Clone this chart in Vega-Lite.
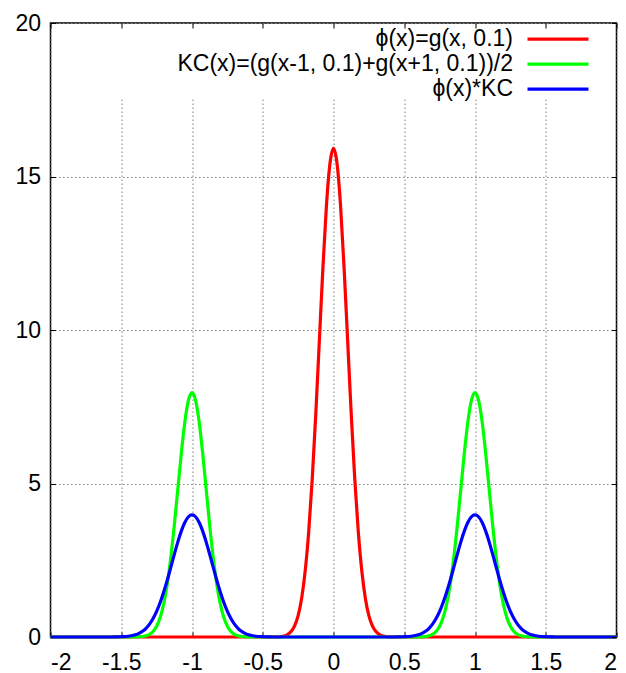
{
  "$schema": "https://vega.github.io/schema/vega-lite/v6.json",
  "width": 566,
  "height": 614,
  "autosize": {"type": "none"},
  "padding": {"left": 50.5, "top": 23, "right": 9.5, "bottom": 36},
  "background": "white",
  "config": {
    "font": "Liberation Sans",
    "view": {"stroke": "black", "strokeWidth": 1.5},
    "axis": {
      "labelFont": "Liberation Sans",
      "labelFontSize": 23,
      "labelColor": "black",
      "domain": false,
      "tickColor": "black",
      "tickSize": -5,
      "tickWidth": 1,
      "gridColor": "#808080",
      "gridDash": [1.5, 2.5],
      "gridWidth": 1,
      "title": null
    }
  },
  "layer": [
    {
      "data": {"values": [{}]},
      "mark": {"type": "rect", "fill": "white"},
      "encoding": {
        "x": {"datum": -1.95, "type": "quantitative", "scale": {"domain": [-2, 2], "nice": false, "zero": false},
          "axis": {"orient": "top", "labels": false, "grid": false, "values": [-2, -1.5, -1, -0.5, 0, 0.5, 1, 1.5, 2], "zindex": 1}},
        "x2": {"datum": 1.95},
        "y": {"datum": 17.55, "type": "quantitative", "scale": {"domain": [0, 20], "nice": false},
          "axis": {"orient": "right", "labels": false, "grid": false, "values": [0, 5, 10, 15, 20], "zindex": 1}},
        "y2": {"datum": 19.95}
      }
    },
    {
      "data": {"values": [
        {"s":"phi","x":-2,"y":0},{"s":"phi","x":-0.5,"y":0},{"s":"phi","x":-0.45,"y":0.001},{"s":"phi","x":-0.4,"y":0.005},{"s":"phi","x":-0.35,"y":0.035},{"s":"phi","x":-0.325,"y":0.081},{"s":"phi","x":-0.3,"y":0.177},{"s":"phi","x":-0.275,"y":0.363},{"s":"phi","x":-0.25,"y":0.699},{"s":"phi","x":-0.225,"y":1.266},{"s":"phi","x":-0.2,"y":2.154},{"s":"phi","x":-0.175,"y":3.442},{"s":"phi","x":-0.15,"y":5.167},{"s":"phi","x":-0.125,"y":7.286},{"s":"phi","x":-0.1,"y":9.653},{"s":"phi","x":-0.075,"y":12.013},{"s":"phi","x":-0.05,"y":14.045},{"s":"phi","x":-0.025,"y":15.425},{"s":"phi","x":0,"y":15.915},{"s":"phi","x":0.025,"y":15.425},{"s":"phi","x":0.05,"y":14.045},{"s":"phi","x":0.075,"y":12.013},{"s":"phi","x":0.1,"y":9.653},{"s":"phi","x":0.125,"y":7.286},{"s":"phi","x":0.15,"y":5.167},{"s":"phi","x":0.175,"y":3.442},{"s":"phi","x":0.2,"y":2.154},{"s":"phi","x":0.225,"y":1.266},{"s":"phi","x":0.25,"y":0.699},{"s":"phi","x":0.275,"y":0.363},{"s":"phi","x":0.3,"y":0.177},{"s":"phi","x":0.325,"y":0.081},{"s":"phi","x":0.35,"y":0.035},{"s":"phi","x":0.4,"y":0.005},{"s":"phi","x":0.45,"y":0.001},{"s":"phi","x":0.5,"y":0},{"s":"phi","x":2,"y":0},
        {"s":"kc","x":-2,"y":0},{"s":"kc","x":-1.5,"y":0},{"s":"kc","x":-1.45,"y":0.001},{"s":"kc","x":-1.4,"y":0.003},{"s":"kc","x":-1.35,"y":0.017},{"s":"kc","x":-1.325,"y":0.04},{"s":"kc","x":-1.3,"y":0.088},{"s":"kc","x":-1.275,"y":0.181},{"s":"kc","x":-1.25,"y":0.35},{"s":"kc","x":-1.225,"y":0.633},{"s":"kc","x":-1.2,"y":1.077},{"s":"kc","x":-1.175,"y":1.721},{"s":"kc","x":-1.15,"y":2.584},{"s":"kc","x":-1.125,"y":3.643},{"s":"kc","x":-1.1,"y":4.827},{"s":"kc","x":-1.075,"y":6.007},{"s":"kc","x":-1.05,"y":7.023},{"s":"kc","x":-1.025,"y":7.713},{"s":"kc","x":-1,"y":7.958},{"s":"kc","x":-0.975,"y":7.713},{"s":"kc","x":-0.95,"y":7.023},{"s":"kc","x":-0.925,"y":6.007},{"s":"kc","x":-0.9,"y":4.827},{"s":"kc","x":-0.875,"y":3.643},{"s":"kc","x":-0.85,"y":2.584},{"s":"kc","x":-0.825,"y":1.721},{"s":"kc","x":-0.8,"y":1.077},{"s":"kc","x":-0.775,"y":0.633},{"s":"kc","x":-0.75,"y":0.35},{"s":"kc","x":-0.725,"y":0.181},{"s":"kc","x":-0.7,"y":0.088},{"s":"kc","x":-0.675,"y":0.04},{"s":"kc","x":-0.65,"y":0.017},{"s":"kc","x":-0.6,"y":0.003},{"s":"kc","x":-0.55,"y":0.001},{"s":"kc","x":-0.5,"y":0},
        {"s":"kc","x":0.5,"y":0},{"s":"kc","x":0.55,"y":0.001},{"s":"kc","x":0.6,"y":0.003},{"s":"kc","x":0.65,"y":0.017},{"s":"kc","x":0.675,"y":0.04},{"s":"kc","x":0.7,"y":0.088},{"s":"kc","x":0.725,"y":0.181},{"s":"kc","x":0.75,"y":0.35},{"s":"kc","x":0.775,"y":0.633},{"s":"kc","x":0.8,"y":1.077},{"s":"kc","x":0.825,"y":1.721},{"s":"kc","x":0.85,"y":2.584},{"s":"kc","x":0.875,"y":3.643},{"s":"kc","x":0.9,"y":4.827},{"s":"kc","x":0.925,"y":6.007},{"s":"kc","x":0.95,"y":7.023},{"s":"kc","x":0.975,"y":7.713},{"s":"kc","x":1,"y":7.958},{"s":"kc","x":1.025,"y":7.713},{"s":"kc","x":1.05,"y":7.023},{"s":"kc","x":1.075,"y":6.007},{"s":"kc","x":1.1,"y":4.827},{"s":"kc","x":1.125,"y":3.643},{"s":"kc","x":1.15,"y":2.584},{"s":"kc","x":1.175,"y":1.721},{"s":"kc","x":1.2,"y":1.077},{"s":"kc","x":1.225,"y":0.633},{"s":"kc","x":1.25,"y":0.35},{"s":"kc","x":1.275,"y":0.181},{"s":"kc","x":1.3,"y":0.088},{"s":"kc","x":1.325,"y":0.04},{"s":"kc","x":1.35,"y":0.017},{"s":"kc","x":1.4,"y":0.003},{"s":"kc","x":1.45,"y":0.001},{"s":"kc","x":1.5,"y":0},{"s":"kc","x":2,"y":0},
        {"s":"conv","x":-2,"y":0},{"s":"conv","x":-1.6,"y":0},{"s":"conv","x":-1.55,"y":0.002},{"s":"conv","x":-1.5,"y":0.008},{"s":"conv","x":-1.45,"y":0.025},{"s":"conv","x":-1.4,"y":0.073},{"s":"conv","x":-1.375,"y":0.118},{"s":"conv","x":-1.35,"y":0.186},{"s":"conv","x":-1.325,"y":0.284},{"s":"conv","x":-1.3,"y":0.419},{"s":"conv","x":-1.275,"y":0.601},{"s":"conv","x":-1.25,"y":0.834},{"s":"conv","x":-1.225,"y":1.122},{"s":"conv","x":-1.2,"y":1.464},{"s":"conv","x":-1.175,"y":1.85},{"s":"conv","x":-1.15,"y":2.267},{"s":"conv","x":-1.125,"y":2.692},{"s":"conv","x":-1.1,"y":3.099},{"s":"conv","x":-1.075,"y":3.457},{"s":"conv","x":-1.05,"y":3.738},{"s":"conv","x":-1.025,"y":3.917},{"s":"conv","x":-1,"y":3.979},{"s":"conv","x":-0.975,"y":3.917},{"s":"conv","x":-0.95,"y":3.738},{"s":"conv","x":-0.925,"y":3.457},{"s":"conv","x":-0.9,"y":3.099},{"s":"conv","x":-0.875,"y":2.692},{"s":"conv","x":-0.85,"y":2.267},{"s":"conv","x":-0.825,"y":1.85},{"s":"conv","x":-0.8,"y":1.464},{"s":"conv","x":-0.775,"y":1.122},{"s":"conv","x":-0.75,"y":0.834},{"s":"conv","x":-0.725,"y":0.601},{"s":"conv","x":-0.7,"y":0.419},{"s":"conv","x":-0.675,"y":0.284},{"s":"conv","x":-0.65,"y":0.186},{"s":"conv","x":-0.625,"y":0.118},{"s":"conv","x":-0.6,"y":0.073},{"s":"conv","x":-0.55,"y":0.025},{"s":"conv","x":-0.5,"y":0.008},{"s":"conv","x":-0.45,"y":0.002},{"s":"conv","x":-0.4,"y":0},
        {"s":"conv","x":0.4,"y":0},{"s":"conv","x":0.45,"y":0.002},{"s":"conv","x":0.5,"y":0.008},{"s":"conv","x":0.55,"y":0.025},{"s":"conv","x":0.6,"y":0.073},{"s":"conv","x":0.625,"y":0.118},{"s":"conv","x":0.65,"y":0.186},{"s":"conv","x":0.675,"y":0.284},{"s":"conv","x":0.7,"y":0.419},{"s":"conv","x":0.725,"y":0.601},{"s":"conv","x":0.75,"y":0.834},{"s":"conv","x":0.775,"y":1.122},{"s":"conv","x":0.8,"y":1.464},{"s":"conv","x":0.825,"y":1.85},{"s":"conv","x":0.85,"y":2.267},{"s":"conv","x":0.875,"y":2.692},{"s":"conv","x":0.9,"y":3.099},{"s":"conv","x":0.925,"y":3.457},{"s":"conv","x":0.95,"y":3.738},{"s":"conv","x":0.975,"y":3.917},{"s":"conv","x":1,"y":3.979},{"s":"conv","x":1.025,"y":3.917},{"s":"conv","x":1.05,"y":3.738},{"s":"conv","x":1.075,"y":3.457},{"s":"conv","x":1.1,"y":3.099},{"s":"conv","x":1.125,"y":2.692},{"s":"conv","x":1.15,"y":2.267},{"s":"conv","x":1.175,"y":1.85},{"s":"conv","x":1.2,"y":1.464},{"s":"conv","x":1.225,"y":1.122},{"s":"conv","x":1.25,"y":0.834},{"s":"conv","x":1.275,"y":0.601},{"s":"conv","x":1.3,"y":0.419},{"s":"conv","x":1.325,"y":0.284},{"s":"conv","x":1.35,"y":0.186},{"s":"conv","x":1.375,"y":0.118},{"s":"conv","x":1.4,"y":0.073},{"s":"conv","x":1.45,"y":0.025},{"s":"conv","x":1.5,"y":0.008},{"s":"conv","x":1.55,"y":0.002},{"s":"conv","x":1.6,"y":0},{"s":"conv","x":2,"y":0}
      ]},
      "mark": {"type": "line", "strokeWidth": 3.2, "interpolate": "monotone"},
      "encoding": {
        "x": {"field": "x", "type": "quantitative", "scale": {"domain": [-2, 2], "nice": false, "zero": false},
          "axis": {"orient": "bottom", "grid": true, "values": [-2, -1.5, -1, -0.5, 0, 0.5, 1, 1.5, 2], "labelExpr": "'' + datum.value", "labelPadding": 19}},
        "y": {"field": "y", "type": "quantitative", "scale": {"domain": [0, 20], "nice": false},
          "axis": {"orient": "left", "grid": true, "values": [0, 5, 10, 15, 20], "labelExpr": "'' + datum.value", "labelPadding": 15}},
        "color": {"field": "s", "type": "nominal",
          "scale": {"domain": ["phi", "kc", "conv"], "range": ["#ff0000", "#00ff00", "#0000ff"]},
          "legend": {
            "orient": "none", "legendX": 495.5, "legendY": 4.2, "title": null,
            "symbolType": "M-3.05,0H3.05", "symbolSize": 400, "symbolStrokeWidth": 3.2,
            "labelFont": "Liberation Sans", "labelFontSize": 23, "labelColor": "black",
            "labelAlign": "right", "labelBaseline": "middle", "labelOffset": -57, "labelLimit": 800,
            "rowPadding": 1, "padding": 0,
            "labelExpr": "datum.value == 'phi' ? 'ϕ(x)=g(x, 0.1)' : datum.value == 'kc' ? 'KC(x)=(g(x-1, 0.1)+g(x+1, 0.1))/2' : 'ϕ(x)*KC'"
          }
        }
      }
    }
  ],
  "resolve": {"axis": {"x": "independent", "y": "independent"}}
}
